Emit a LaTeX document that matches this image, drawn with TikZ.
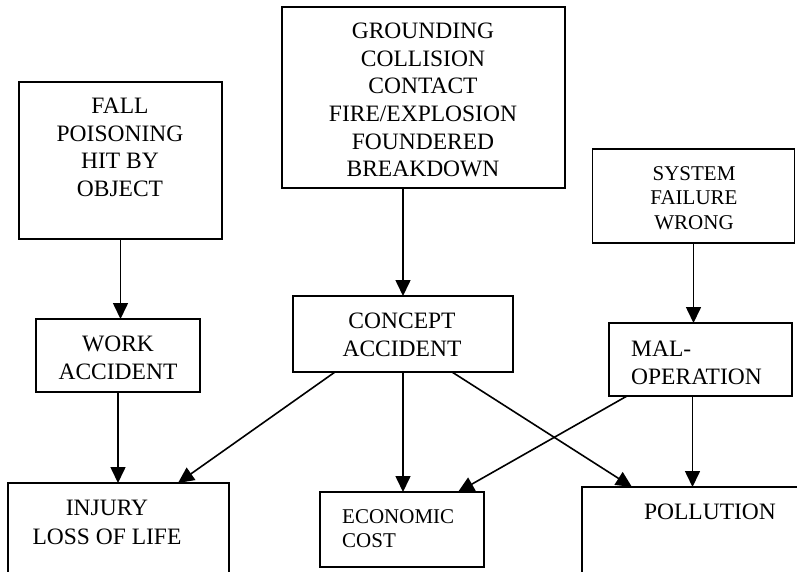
\documentclass[tikz,border=0pt]{standalone}
\usepackage{fontspec}
\setmainfont{Liberation Serif}
\usetikzlibrary{arrows.meta,calc}
\begin{document}
\begin{tikzpicture}[x=1pt,y=-1pt,
 box/.style={draw,line width=1.8pt,inner sep=0pt,outer sep=0pt},
 arr/.style={line width=1.6pt,-{Triangle[length=16pt,width=15pt]}},
 big/.style={font=\fontsize{23.5}{27.6}\selectfont,inner sep=0pt,align=center},
 small/.style={font=\fontsize{21}{24.5}\selectfont,inner sep=0pt,align=center},
]
\useasboundingbox[fill=white] (0,0) rectangle (797,571);
% boxes
\node[box,minimum width=203pt,minimum height=157pt] (fall) at (120.5,160.5) {};
\node[box,minimum width=283pt,minimum height=181pt] (ground) at (423.5,97.5) {};
\node[box,minimum width=202pt,minimum height=94pt] (sys) at (693.5,196) {};
\node[box,minimum width=164pt,minimum height=73pt] (work) at (118,355.5) {};
\node[box,minimum width=220pt,minimum height=76pt] (conc) at (403,334) {};
\node[box,minimum width=183pt,minimum height=73pt] (mal) at (700.5,359.5) {};
\node[box,minimum width=221pt,minimum height=117pt] (inj) at (118.5,541.5) {};
\node[box,minimum width=164pt,minimum height=75pt] (econ) at (402,529.5) {};
\node[box,minimum width=248pt,minimum height=113pt] (poll) at (706,543.5) {};
% texts
\node[big,anchor=north] (tfall) at (120,98) {FALL\\POISONING\\HIT BY\\OBJECT};
\node[big,anchor=north] (tground) at (423,23) {GROUNDING\\COLLISION\\CONTACT\\FIRE/EXPLOSION\\FOUNDERED\\BREAKDOWN};
\node[small,anchor=north] (tsys) at (694,166) {SYSTEM\\FAILURE\\WRONG};
\node[big,anchor=north] (twork) at (118,336) {WORK\\ACCIDENT};
\node[big,anchor=north] (tconc) at (402,313) {CONCEPT\\ACCIDENT};
\node[big,anchor=north west,align=left] (tmal) at (631,341) {MAL-\\OPERATION};
\node[big,anchor=north,font=\fontsize{23.5}{28.5}\selectfont] (tinj) at (107,500) {INJURY\\LOSS OF LIFE};
\node[small,anchor=north west,align=left] (tecon) at (342,509) {ECONOMIC\\COST};
\node[big,anchor=north] (tpoll) at (710,504) {POLLUTION};
% connectors
\draw[arr] (fall.south) -- (fall.south |- work.north);
\draw[arr] (conc.north |- ground.south) -- (conc.north);
\draw[arr] (sys.south) -- (sys.south |- mal.north);
\draw[arr] (work.south) -- (work.south |- inj.north);
\draw[arr] ([xshift=42pt]conc.south west) -- ([xshift=170pt]inj.north west);
\draw[arr] (conc.south) -- (conc.south |- econ.north);
\draw[arr] ([xshift=159pt]conc.south west) -- ([xshift=50pt]poll.north west);
\draw[arr] ([xshift=18pt]mal.south west) -- ([xshift=138pt]econ.north west);
\coordinate (mp) at ([xshift=-8pt]mal.south);
\draw[arr] (mp) -- (mp |- poll.north);
\end{tikzpicture}
\end{document}
